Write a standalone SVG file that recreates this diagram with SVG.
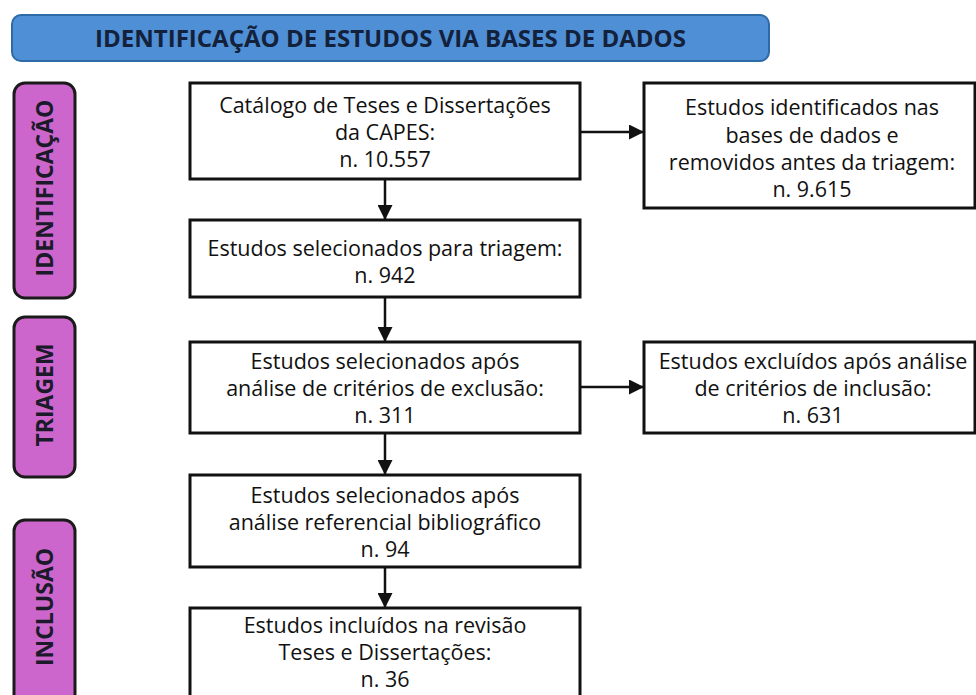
<svg xmlns="http://www.w3.org/2000/svg" width="976" height="695" viewBox="0 0 976 695">
  <defs>
    <style>
      .box { fill: #ffffff; stroke: #111111; stroke-width: 3; }
      .phase { fill: #cc66cc; stroke: #1a1a1a; stroke-width: 3; }
      .t { font-family: "Open Sans", "Noto Sans", "Liberation Sans", sans-serif; font-size: 21.5px; fill: #111111; text-anchor: middle; }
      .pt { font-family: "Open Sans", "Noto Sans", "Liberation Sans", sans-serif; font-size: 23px; font-weight: bold; fill: #1a1a2a; text-anchor: middle; }
      .ht { font-family: "Open Sans", "Noto Sans", "Liberation Sans", sans-serif; font-size: 23.5px; font-weight: bold; fill: #14213a; text-anchor: middle; }
      .conn { stroke: #111111; stroke-width: 2.5; fill: none; marker-end: url(#ah); }
    </style>
    <marker id="ah" markerUnits="userSpaceOnUse" markerWidth="15" markerHeight="15" refX="15" refY="7.5" orient="auto">
      <path d="M0,0 L15,7.5 L0,15 z" fill="#111111"/>
    </marker>
  </defs>
  <rect width="976" height="695" fill="#ffffff"/>

  <g id="header">
    <rect x="12" y="15" width="757" height="46" rx="9" fill="#4f8fd6" stroke="#2f6aa8" stroke-width="2"/>
    <text class="ht" x="390.5" y="47" textLength="591" lengthAdjust="spacingAndGlyphs">IDENTIFICAÇÃO DE ESTUDOS VIA BASES DE DADOS</text>
  </g>

  <g id="phase-identificacao">
    <rect class="phase" x="14" y="83" width="61" height="215" rx="11"/>
    <text class="pt" transform="translate(53,188) rotate(-90)">IDENTIFICAÇÃO</text>
  </g>
  <g id="phase-triagem">
    <rect class="phase" x="14" y="317" width="61" height="160" rx="11"/>
    <text class="pt" transform="translate(53,395) rotate(-90)">TRIAGEM</text>
  </g>
  <g id="phase-inclusao">
    <rect class="phase" x="14" y="520" width="61" height="190" rx="11"/>
    <text class="pt" transform="translate(53,607) rotate(-90)">INCLUSÃO</text>
  </g>

  <g id="connectors">
    <line class="conn" x1="580" y1="132" x2="644" y2="132"/>
    <line class="conn" x1="580" y1="387" x2="644" y2="387"/>
    <line class="conn" x1="385" y1="179" x2="385" y2="220"/>
    <line class="conn" x1="385" y1="297" x2="385" y2="342"/>
    <line class="conn" x1="385" y1="433" x2="385" y2="475"/>
    <line class="conn" x1="385" y1="567" x2="385" y2="608"/>
  </g>

  <g id="n-catalogo">
    <rect class="box" x="190" y="83" width="390" height="96"/>
    <text class="t" x="385" y="113">Catálogo de Teses e Dissertações</text>
    <text class="t" x="385" y="140">da CAPES:</text>
    <text class="t" x="385" y="167">n. 10.557</text>
  </g>
  <g id="n-removidos">
    <rect class="box" x="644" y="83" width="331" height="125"/>
    <text class="t" x="812" y="115">Estudos identificados nas</text>
    <text class="t" x="812" y="143">bases de dados e</text>
    <text class="t" x="812" y="170">removidos antes da triagem:</text>
    <text class="t" x="812" y="197">n. 9.615</text>
  </g>
  <g id="n-triagem">
    <rect class="box" x="190" y="220" width="390" height="77"/>
    <text class="t" x="385" y="256">Estudos selecionados para triagem:</text>
    <text class="t" x="385" y="283">n. 942</text>
  </g>
  <g id="n-exclusao">
    <rect class="box" x="190" y="342" width="390" height="91"/>
    <text class="t" x="385" y="369">Estudos selecionados após</text>
    <text class="t" x="385" y="396">análise de critérios de exclusão:</text>
    <text class="t" x="385" y="423">n. 311</text>
  </g>
  <g id="n-excluidos">
    <rect class="box" x="644" y="342" width="331" height="91"/>
    <text class="t" x="813" y="369">Estudos excluídos após análise</text>
    <text class="t" x="813" y="396">de critérios de inclusão:</text>
    <text class="t" x="813" y="423">n. 631</text>
  </g>
  <g id="n-referencial">
    <rect class="box" x="190" y="475" width="390" height="92"/>
    <text class="t" x="385" y="503">Estudos selecionados após</text>
    <text class="t" x="385" y="530">análise referencial bibliográfico</text>
    <text class="t" x="385" y="557">n. 94</text>
  </g>
  <g id="n-incluidos">
    <rect class="box" x="190" y="608" width="390" height="100"/>
    <text class="t" x="385" y="633">Estudos incluídos na revisão</text>
    <text class="t" x="385" y="660">Teses e Dissertações:</text>
    <text class="t" x="385" y="687">n. 36</text>
  </g>
</svg>
